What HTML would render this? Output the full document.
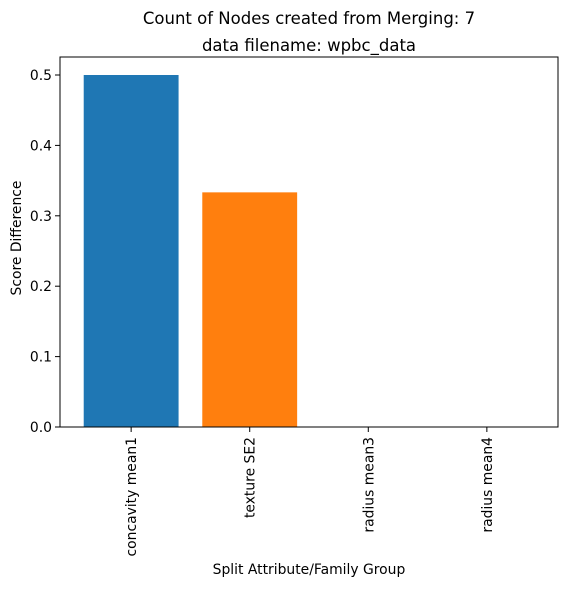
<!DOCTYPE html>
<html><head><meta charset="utf-8"><style>
body{margin:0;background:#fff;}
svg{font-family:"DejaVu Sans","Liberation Sans",sans-serif;}
</style></head><body>
<svg id="chart" width="567" height="586">
<text x="309" y="24" font-size="16.5" text-anchor="middle">Count of Nodes created from Merging: 7</text>
<text x="309" y="51" font-size="16.5" text-anchor="middle">data filename: wpbc_data</text>
<g id="bars"></g>
<g id="yticks"></g>
<g id="xticks"></g>
<rect x="60" y="57" width="498" height="370" fill="none" stroke="#000" stroke-width="1"/>
<text x="309" y="574" font-size="13.9" text-anchor="middle">Split Attribute/Family Group</text>
<text transform="translate(21,238) rotate(-90)" font-size="13.9" text-anchor="middle">Score Difference</text>
</svg>
<script>
const categories=["concavity mean1","texture SE2","radius mean3","radius mean4"];
const values=[0.5,0.3333,0,0];
const colors=["#1f77b4","#ff7f0e","#2ca02c","#d62728"];
const yTickValues=[0,0.1,0.2,0.3,0.4,0.5];
const yTickLabels=["0.0","0.1","0.2","0.3","0.4","0.5"];
const L=60,R=558,B=427;
const ns="http://www.w3.org/2000/svg";
function xScale(i){return L+(i+0.6)/4.2*(R-L);}
function yScale(v){return B-v/0.5*(B-75);}
const step=(R-L)/4.2, bw=step*0.8;
const gb=document.getElementById('bars');
categories.forEach((c,i)=>{
 const r=document.createElementNS(ns,'rect');
 const y=yScale(values[i]);
 r.setAttribute('x',xScale(i)-bw/2);r.setAttribute('y',y);
 r.setAttribute('width',bw);r.setAttribute('height',B-y);
 r.setAttribute('fill',colors[i%colors.length]);
 
 
 gb.appendChild(r);
});
const gy=document.getElementById('yticks');
yTickValues.forEach((v,i)=>{
 const y=yScale(v);
 const l=document.createElementNS(ns,'line');
 l.setAttribute('x1',L-5);l.setAttribute('x2',L);l.setAttribute('y1',y);l.setAttribute('y2',y);l.setAttribute('stroke','#000');
 
 
 gy.appendChild(l);
 const t=document.createElementNS(ns,'text');
 t.setAttribute('x',L-8);t.setAttribute('y',y+5);t.setAttribute('font-size','13.9');t.setAttribute('text-anchor','end');
 t.textContent=yTickLabels[i];
 
 
 gy.appendChild(t);
});
const gx=document.getElementById('xticks');
categories.forEach((c,i)=>{
 const x=xScale(i);
 const l=document.createElementNS(ns,'line');
 l.setAttribute('x1',x);l.setAttribute('x2',x);l.setAttribute('y1',B);l.setAttribute('y2',B+5);l.setAttribute('stroke','#000');
 
 
 gx.appendChild(l);
 const t=document.createElementNS(ns,'text');
 t.setAttribute('transform','translate('+(x+5)+','+(B+10)+') rotate(-90)');
 t.setAttribute('font-size','13.9');t.setAttribute('text-anchor','end');
 t.textContent=c;
 
 
 gx.appendChild(t);
});
</script>
</body></html>
